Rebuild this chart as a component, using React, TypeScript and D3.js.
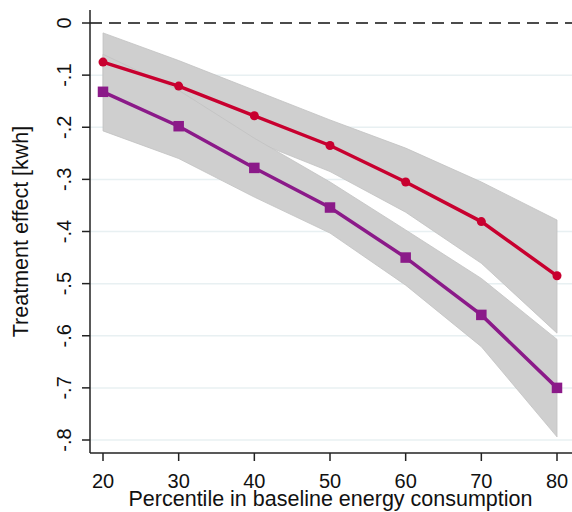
import * as d3 from "d3";

// Percentiles on the x axis
const percentiles = [20, 30, 40, 50, 60, 70, 80];

// Red series (circles) with its confidence band
const redEffect = [-0.075, -0.121, -0.178, -0.235, -0.305, -0.381, -0.485];
const redUpper = [-0.019, -0.072, -0.129, -0.186, -0.24, -0.305, -0.378];
const redLower = [-0.131, -0.17, -0.227, -0.285, -0.363, -0.461, -0.595];

// Purple series (squares) with its confidence band
const purpleEffect = [-0.132, -0.198, -0.278, -0.354, -0.45, -0.56, -0.7];
const purpleUpper = [-0.06, -0.129, -0.221, -0.305, -0.397, -0.49, -0.607];
const purpleLower = [-0.207, -0.26, -0.334, -0.403, -0.503, -0.621, -0.794];

const yTicks = [0, -0.1, -0.2, -0.3, -0.4, -0.5, -0.6, -0.7, -0.8];
const yTickLabels = ["0", "-.1", "-.2", "-.3", "-.4", "-.5", "-.6", "-.7", "-.8"];

const width = 572;
const height = 512;
const font = "'Liberation Sans', Arial, sans-serif";

const App = () => {
  const x = d3.scaleLinear().domain([20, 80]).range([103, 557]);
  const y = d3.scaleLinear().domain([0, -0.8]).range([23, 440]);

  const axisLeft = 90;
  const axisBottom = 453;
  const axisTop = 10;

  const band = (upper: number[], lower: number[]) =>
    d3
      .area<number>()
      .x((d) => x(d))
      .y0((_, i) => y(lower[i]))
      .y1((_, i) => y(upper[i]))(percentiles) || "";

  const line = (vals: number[]) =>
    d3
      .line<number>()
      .x((d) => x(d))
      .y((_, i) => y(vals[i]))(percentiles) || "";

  const red = "#c8002f";
  const purple = "#8b1a89";

  return (
    <svg
      width={width}
      height={height}
      style={{ position: "absolute", left: 0, top: 0, background: "#fff" }}
      fontFamily={font}
    >
      {/* gridlines */}
      {yTicks.slice(1).map((t) => (
        <line
          key={"g" + t}
          x1={axisLeft}
          x2={width}
          y1={y(t)}
          y2={y(t)}
          stroke="#e8f0f2"
          strokeWidth={1.5}
        />
      ))}

      {/* confidence bands */}
      <path d={band(redUpper, redLower)} fill="#cfcfcf" stroke="#c2c2c2" strokeWidth={0.8} />
      <path d={band(purpleUpper, purpleLower)} fill="#cfcfcf" stroke="#c2c2c2" strokeWidth={0.8} />

      {/* zero line */}
      <line
        x1={axisLeft}
        x2={width}
        y1={y(0)}
        y2={y(0)}
        stroke="#111"
        strokeWidth={1.5}
        strokeDasharray="12,7"
      />

      {/* series */}
      <path d={line(redEffect)} fill="none" stroke={red} strokeWidth={3.5} />
      {percentiles.map((p, i) => (
        <circle key={"r" + p} cx={x(p)} cy={y(redEffect[i])} r={4.5} fill={red} />
      ))}
      <path d={line(purpleEffect)} fill="none" stroke={purple} strokeWidth={3.5} />
      {percentiles.map((p, i) => (
        <rect
          key={"p" + p}
          x={x(p) - 5.25}
          y={y(purpleEffect[i]) - 5.25}
          width={10.5}
          height={10.5}
          fill={purple}
        />
      ))}

      {/* axes */}
      <line x1={axisLeft} x2={axisLeft} y1={axisTop} y2={axisBottom} stroke="#222" strokeWidth={1.5} />
      <line x1={axisLeft} x2={width} y1={axisBottom} y2={axisBottom} stroke="#222" strokeWidth={1.5} />

      {yTicks.map((t, i) => (
        <g key={"yt" + t}>
          <line x1={axisLeft - 8} x2={axisLeft} y1={y(t)} y2={y(t)} stroke="#222" strokeWidth={1.5} />
          <text
            transform={`translate(71,${y(t)}) rotate(-90)`}
            textAnchor="middle"
            fontSize={20}
            fill="#111"
          >
            {yTickLabels[i]}
          </text>
        </g>
      ))}

      {percentiles.map((p) => (
        <g key={"xt" + p}>
          <line x1={x(p)} x2={x(p)} y1={axisBottom} y2={axisBottom + 8} stroke="#222" strokeWidth={1.5} />
          <text x={x(p)} y={487.5} textAnchor="middle" fontSize={20} fill="#111">
            {p}
          </text>
        </g>
      ))}

      <text x={330.5} y={505.5} textAnchor="middle" fontSize={21.5} fill="#111">
        Percentile in baseline energy consumption
      </text>
      <text
        transform={`translate(28,231.5) rotate(-90)`}
        textAnchor="middle"
        fontSize={21.5}
        fill="#111"
      >
        Treatment effect [kwh]
      </text>
    </svg>
  );
};

export default App;
